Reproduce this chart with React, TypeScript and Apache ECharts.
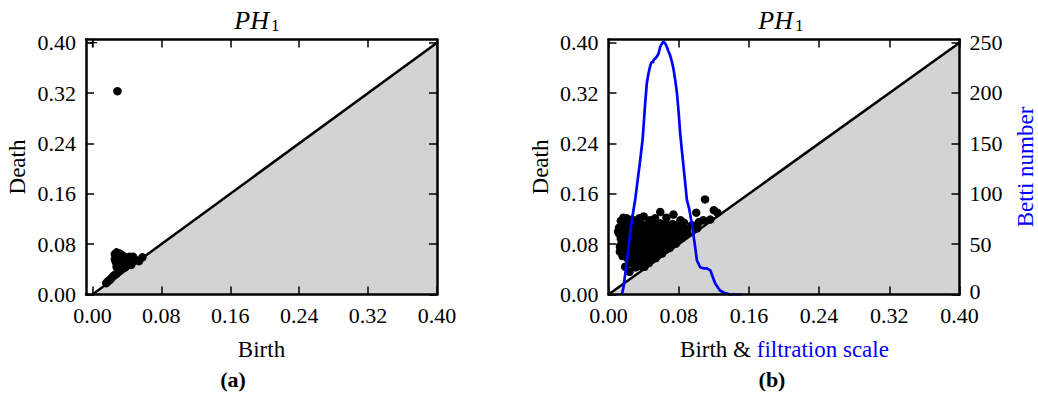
import React, { useEffect, useRef } from "react";
import * as echarts from "echarts";

// ---------- data ----------
const scaleTicks = [0, 0.08, 0.16, 0.24, 0.32, 0.4];
const bettiTicks = [0, 50, 100, 150, 200, 250];

const leftXMin = -0.0075;
const xMax = 0.4;
const yMax = 0.405;
const bettiMax = 253.1;

const diagonal: [number, number][] = [
  [0, 0],
  [0.4, 0.4],
];

// (a) persistence pairs [birth, death]
const pointsA: [number, number][] = [
  [0.029, 0.323],
  [0.016, 0.018], [0.018, 0.021], [0.02, 0.023], [0.022, 0.026], [0.024, 0.029],
  [0.026, 0.031], [0.028, 0.033], [0.03, 0.036], [0.032, 0.038], [0.034, 0.041],
  [0.03, 0.04], [0.028, 0.044], [0.036, 0.045], [0.038, 0.043], [0.041, 0.047],
  [0.044, 0.05], [0.045, 0.047], [0.047, 0.052], [0.05, 0.055], [0.054, 0.053],
  [0.058, 0.059], [0.047, 0.06], [0.043, 0.06], [0.039, 0.058], [0.035, 0.062],
  [0.032, 0.065], [0.028, 0.067], [0.026, 0.064], [0.026, 0.056], [0.027, 0.052],
  [0.03, 0.055], [0.034, 0.055], [0.037, 0.051], [0.033, 0.048], [0.04, 0.054],
];
// (a) essential class (infinite death)
const infiniteA: [number, number][] = [[0, 0.4]];

// (b) persistence pairs [birth, death]
const pointsB: [number, number][] = [
  [0.11, 0.151], [0.12, 0.134], [0.124, 0.13], [0.116, 0.119], [0.1, 0.13],
  [0.103, 0.115], [0.108, 0.118], [0.101, 0.105], [0.095, 0.11],
  [0.059, 0.131], [0.074, 0.127], [0.082, 0.118], [0.086, 0.114], [0.066, 0.122],
  [0.017, 0.122], [0.021, 0.121], [0.014, 0.117], [0.027, 0.119], [0.035, 0.121],
  [0.04, 0.124], [0.047, 0.118], [0.053, 0.121], [0.045, 0.112],
  [0.011, 0.1], [0.012, 0.106], [0.013, 0.068], [0.013, 0.076], [0.016, 0.061],
  [0.019, 0.044], [0.024, 0.036], [0.031, 0.043],
  [0.016, 0.112], [0.023, 0.113], [0.03, 0.111], [0.037, 0.113], [0.052, 0.112],
  [0.059, 0.113], [0.066, 0.111], [0.073, 0.112], [0.079, 0.11],
  [0.013, 0.105], [0.02, 0.104], [0.027, 0.106], [0.034, 0.104], [0.041, 0.105],
  [0.048, 0.104], [0.055, 0.106], [0.062, 0.104], [0.069, 0.105], [0.076, 0.104],
  [0.083, 0.106], [0.089, 0.104],
  [0.012, 0.097], [0.019, 0.096], [0.026, 0.098], [0.033, 0.097], [0.04, 0.096],
  [0.047, 0.098], [0.054, 0.097], [0.061, 0.096], [0.068, 0.098], [0.075, 0.097],
  [0.082, 0.096], [0.09, 0.098],
  [0.014, 0.089], [0.021, 0.088], [0.028, 0.09], [0.035, 0.089], [0.042, 0.088],
  [0.049, 0.09], [0.056, 0.089], [0.063, 0.088], [0.07, 0.09], [0.077, 0.089],
  [0.084, 0.09],
  [0.015, 0.081], [0.022, 0.08], [0.029, 0.082], [0.036, 0.081], [0.043, 0.08],
  [0.05, 0.082], [0.057, 0.081], [0.064, 0.08], [0.071, 0.082], [0.077, 0.081],
  [0.017, 0.073], [0.024, 0.072], [0.031, 0.074], [0.038, 0.073], [0.045, 0.072],
  [0.052, 0.074], [0.059, 0.073], [0.066, 0.072], [0.07, 0.074],
  [0.019, 0.065], [0.026, 0.064], [0.033, 0.066], [0.04, 0.065], [0.047, 0.064],
  [0.054, 0.066], [0.061, 0.065],
  [0.022, 0.057], [0.029, 0.056], [0.036, 0.058], [0.043, 0.057], [0.05, 0.056],
  [0.054, 0.058],
  [0.025, 0.05], [0.032, 0.049], [0.039, 0.051], [0.046, 0.05],
  [0.03, 0.044], [0.037, 0.045], [0.041, 0.044],
];

// (b) Betti number vs filtration scale [scale, betti]
const bettiCurve: [number, number][] = [
  [0.0153, 0], [0.017, 7], [0.019, 20], [0.021, 34], [0.023, 48], [0.0247, 60],
  [0.027, 76], [0.0304, 94], [0.033, 112], [0.0361, 133], [0.039, 155], [0.0418, 190],
  [0.0437, 210], [0.0455, 219], [0.047, 225], [0.0483, 229], [0.0494, 231], [0.0506, 230],
  [0.0515, 233], [0.053, 234], [0.055, 236], [0.057, 239], [0.059, 246], [0.0608, 249],
  [0.0627, 251], [0.0646, 249], [0.066, 247], [0.068, 242], [0.07, 238], [0.072, 232],
  [0.074, 224], [0.076, 213], [0.078, 200], [0.08, 180], [0.0817, 160], [0.0836, 143],
  [0.0855, 127], [0.0875, 110], [0.0893, 94], [0.092, 85], [0.095, 70], [0.0988, 47],
  [0.1007, 34], [0.1045, 27], [0.108, 26], [0.112, 26], [0.116, 24], [0.1216, 11],
  [0.127, 4], [0.131, 2], [0.135, 1], [0.138, 0], [0.152, 0],
];

// ---------- styling helpers ----------
const SERIF = "'Liberation Serif', 'DejaVu Serif', serif";
const BLUE = "#0000ff";
const GREY = "#d3d3d3";

function axis(extra: any, ticks: number[], showLabel: boolean, fmt: (v: number) => string, margin: number, rich?: any) {
  return {
    type: "value",
    axisLine: { show: true, onZero: false, lineStyle: { color: "#000", width: 2.5 } },
    axisTick: {
      show: true,
      inside: true,
      length: 8,
      lineStyle: { color: "#000", width: 1.5 },
      customValues: ticks,
    },
    axisLabel: {
      show: showLabel,
      customValues: ticks,
      formatter: fmt,
      color: "#000",
      fontFamily: SERIF,
      fontSize: 22,
      lineHeight: 17,
      margin,
      rich,
    },
    splitLine: { show: false },
    z: 10,
    ...extra,
  };
}

const f2 = (v: number) => v.toFixed(2);
// the zero label of the Betti axis sits a touch higher so that it clears the 0.40 label below it
const fBetti = (v: number) => (v === 0 ? "{z|0}" : String(Math.round(v)));
const bettiRich = {
  z: { fontFamily: SERIF, fontSize: 22, color: "#000", lineHeight: 17, padding: [0, 0, 7, 0] },
};

const plusPath = "path://M4.3,0h1.4v4.3h4.3v1.4h-4.3v4.3h-1.4v-4.3h-4.3v-1.4h4.3z";

function txt(x: number, y: number, text: string, opts: any = {}, rotation = 0) {
  return {
    type: "text",
    x,
    y,
    rotation,
    z: 20,
    style: {
      text,
      fill: opts.fill || "#000",
      fontFamily: SERIF,
      fontSize: opts.fontSize || 23,
      fontStyle: opts.fontStyle || "normal",
      fontWeight: opts.fontWeight || "normal",
      align: opts.align || "center",
      verticalAlign: "middle",
      textAlign: opts.align || "center",
      textVerticalAlign: "middle",
      rich: opts.rich,
    },
  };
}

export default function App() {
  const ref = useRef<HTMLDivElement>(null);

  useEffect(() => {
    if (!ref.current) return;
    const chart = echarts.init(ref.current, undefined, { renderer: "svg" });

    const dot = { color: "#000", opacity: 1, borderWidth: 0 };

    const option: any = {
      animation: false,
      backgroundColor: "#fff",
      grid: [
        { left: 86, top: 39.5, width: 351, height: 255 },
        { left: 608.5, top: 39.5, width: 351, height: 255 },
      ],
      xAxis: [
        axis({ gridIndex: 0, min: leftXMin, max: xMax, position: "bottom" }, scaleTicks, true, f2, 12),
        axis({ gridIndex: 0, min: leftXMin, max: xMax, position: "top" }, scaleTicks, false, f2, 12),
        axis({ gridIndex: 1, min: 0, max: xMax, position: "bottom" }, scaleTicks, true, f2, 12),
        axis({ gridIndex: 1, min: 0, max: xMax, position: "top" }, scaleTicks, false, f2, 12),
      ],
      yAxis: [
        axis({ gridIndex: 0, min: 0, max: yMax, position: "left" }, scaleTicks, true, f2, 10),
        axis({ gridIndex: 0, min: 0, max: yMax, position: "right" }, scaleTicks, false, f2, 10),
        axis({ gridIndex: 1, min: 0, max: yMax, position: "left" }, scaleTicks, true, f2, 10),
        axis({ gridIndex: 1, min: 0, max: bettiMax, position: "right" }, bettiTicks, true, fBetti, 10, bettiRich),
      ],
      series: [
        {
          type: "line",
          xAxisIndex: 0,
          yAxisIndex: 0,
          data: diagonal,
          symbol: "none",
          lineStyle: { color: "#000", width: 2.5 },
          areaStyle: { color: GREY, opacity: 1 },
          z: 1,
        },
        {
          type: "scatter",
          xAxisIndex: 0,
          yAxisIndex: 0,
          data: pointsA,
          symbolSize: 8.5,
          itemStyle: dot,
          z: 3,
        },
        {
          type: "scatter",
          xAxisIndex: 0,
          yAxisIndex: 0,
          data: infiniteA,
          symbol: plusPath,
          symbolSize: 9,
          itemStyle: dot,
          z: 3,
        },
        {
          type: "line",
          xAxisIndex: 2,
          yAxisIndex: 2,
          data: diagonal,
          symbol: "none",
          lineStyle: { color: "#000", width: 2.5 },
          areaStyle: { color: GREY, opacity: 1 },
          z: 1,
        },
        {
          type: "scatter",
          xAxisIndex: 2,
          yAxisIndex: 2,
          data: pointsB,
          symbolSize: 8.5,
          itemStyle: dot,
          z: 3,
        },
        {
          type: "line",
          xAxisIndex: 2,
          yAxisIndex: 3,
          data: bettiCurve,
          symbol: "none",
          lineStyle: { color: BLUE, width: 2.7 },
          z: 4,
        },
      ],
      graphic: [
        txt(269, 20, "PH", { fontSize: 26, fontStyle: "italic", align: "right" }),
        txt(271, 25, "1", { fontSize: 17, align: "left" }),
        txt(793, 20, "PH", { fontSize: 26, fontStyle: "italic", align: "right" }),
        txt(795, 25, "1", { fontSize: 17, align: "left" }),
        txt(17, 167, "Death", {}, Math.PI / 2),
        txt(540, 167, "Death", {}, Math.PI / 2),
        txt(261.5, 349, "Birth"),
        txt(784.5, 349, "{a|Birth & }{b|filtration scale}", {
          rich: {
            a: { fontFamily: SERIF, fontSize: 23, fill: "#000", color: "#000" },
            b: { fontFamily: SERIF, fontSize: 23, fill: BLUE, color: BLUE },
          },
        }),
        txt(1025, 167, "Betti number", { fill: BLUE }, Math.PI / 2),
        txt(233, 379, "(a)", { fontSize: 22, fontWeight: "bold" }),
        txt(772, 379, "(b)", { fontSize: 22, fontWeight: "bold" }),
      ],
    };

    chart.setOption(option);
    return () => chart.dispose();
  }, []);

  return (
    <div
      ref={ref}
      style={{ position: "fixed", left: 0, top: 0, width: 1038, height: 396, background: "#fff" }}
    />
  );
}
